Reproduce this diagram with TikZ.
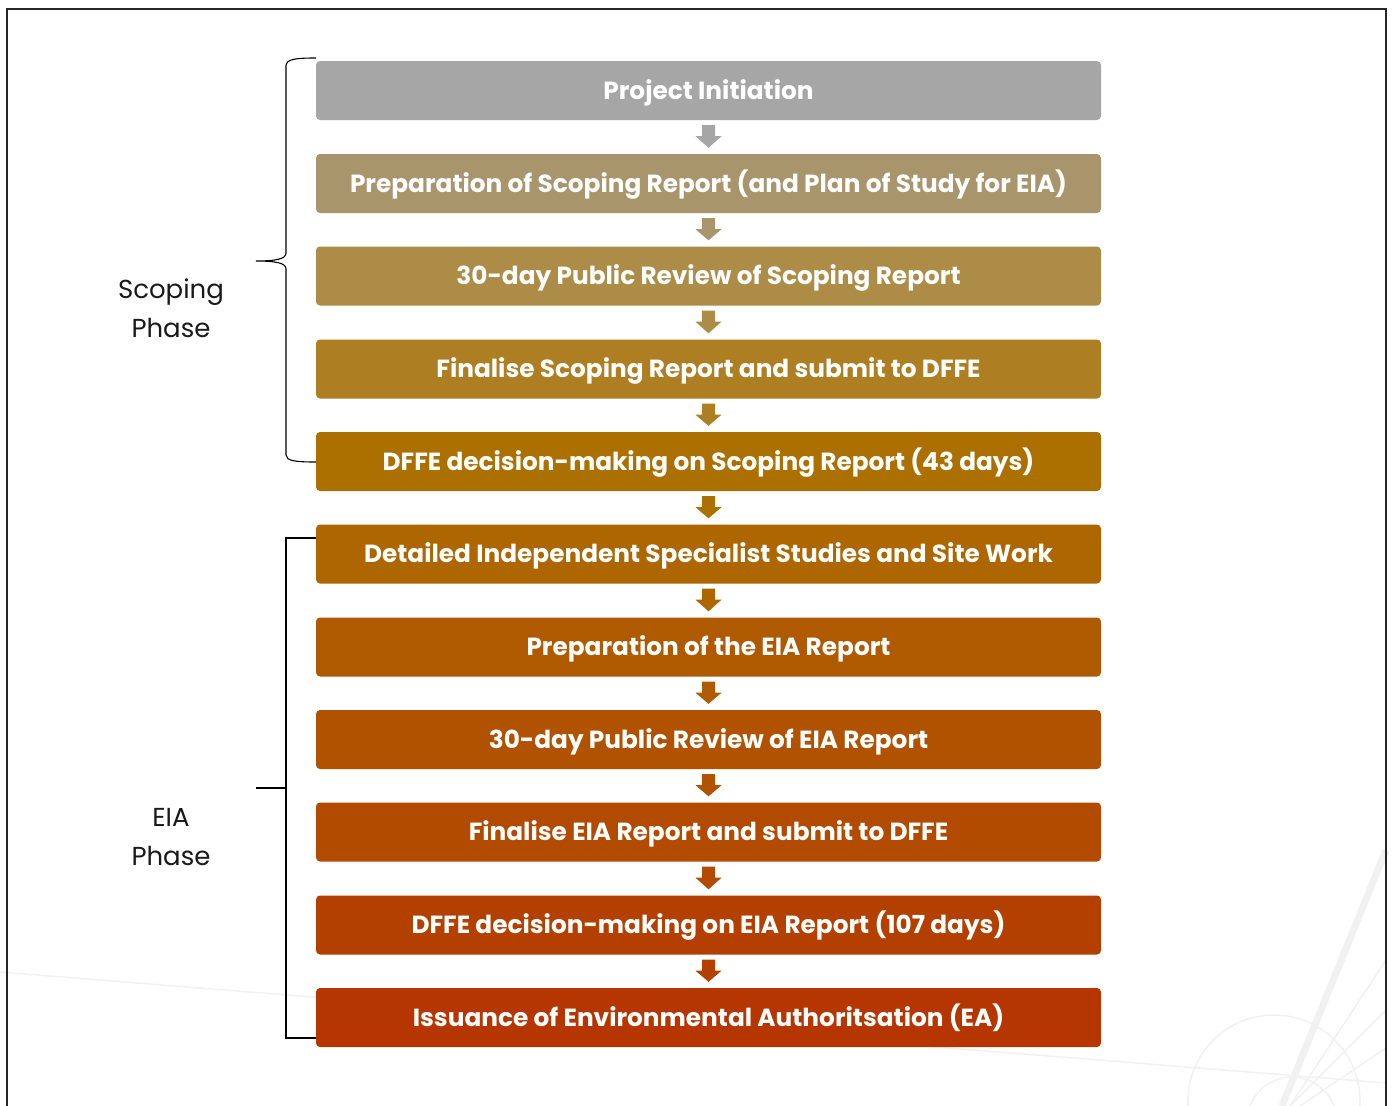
\documentclass[tikz,border=0pt]{standalone}
\usepackage{fontspec}
\setmainfont{Poppins}
\usetikzlibrary{calc}
\definecolor{c1}{HTML}{A6A6A6}
\definecolor{c2}{HTML}{A8956B}
\definecolor{c3}{HTML}{AD8C48}
\definecolor{c4}{HTML}{AD7E22}
\definecolor{c5}{HTML}{AB7000}
\definecolor{c6}{HTML}{AD6600}
\definecolor{c7}{HTML}{AF5A00}
\definecolor{c8}{HTML}{B05200}
\definecolor{c9}{HTML}{B24A00}
\definecolor{c10}{HTML}{B44000}
\definecolor{c11}{HTML}{B53600}
\definecolor{wm}{HTML}{F1F1F1}
\tikzset{
  stepbox/.style={rounded corners=4pt, minimum width=785pt, minimum height=59pt,
    inner sep=0pt, text=white, text height=21.4pt, text depth=4pt,
    font=\fontsize{24.8}{28}\selectfont\bfseries},
  phase/.style={align=center, font=\fontsize{26}{39}\selectfont, text=black!90},
  brk/.style={line width=1.1pt, black},
  wmline/.style={draw=wm, line width=1.5pt},
}
\newcommand{\blockarrow}[3]{%
  \fill[#3] ($(#1.south)+(-6.5pt,-5pt)$) -- ($(#1.south)+(6.5pt,-5pt)$)
    -- ($(#1.south)+(6.5pt,-16pt)$) -- ($(#1.south)+(13pt,-16pt)$)
    -- ($(#2.north)+(0pt,6pt)$) -- ($(#1.south)+(-13pt,-16pt)$)
    -- ($(#1.south)+(-6.5pt,-16pt)$) -- cycle;}
\begin{document}
\begin{tikzpicture}[x=1pt,y=-1pt]
\useasboundingbox (0,0) rectangle (1393,1106);
% watermark
\draw[wmline] (0,972) -- (1386,1083);
\draw[draw=wm, line width=7pt] (1386,850) -- (1282,1106);
\draw[wmline] (1274,1101) circle (86);
\draw[wmline] (1292,1122) circle (45);
\draw[wmline] (1290,1106) -- (1386,960);
\draw[wmline] (1290,1106) -- (1386,1010);
\draw[wmline] (1300,1106) -- (1386,1048);
% frame
\draw[line width=2pt, black!85] (7,1106) -- (7,9) -- (1386,9) -- (1386,1106);
% boxes
\node[stepbox, fill=c1]  (n1)  at (708.5,90.5)  {Project Initiation};
\node[stepbox, fill=c2]  (n2)  at (708.5,183.5) {Preparation of Scoping Report (and Plan of Study for EIA)};
\node[stepbox, fill=c3]  (n3)  at (708.5,276)   {30-day Public Review of Scoping Report};
\node[stepbox, fill=c4]  (n4)  at (708.5,369)   {Finalise Scoping Report and submit to DFFE};
\node[stepbox, fill=c5]  (n5)  at (708.5,461.5) {DFFE decision-making on Scoping Report (43 days)};
\node[stepbox, fill=c6]  (n6)  at (708.5,554)   {Detailed Independent Specialist Studies and Site Work};
\node[stepbox, fill=c7]  (n7)  at (708.5,647)   {Preparation of the EIA Report};
\node[stepbox, fill=c8]  (n8)  at (708.5,739.5) {30-day Public Review of EIA Report};
\node[stepbox, fill=c9]  (n9)  at (708.5,832)   {Finalise EIA Report and submit to DFFE};
\node[stepbox, fill=c10] (n10) at (708.5,925)   {DFFE decision-making on EIA Report (107 days)};
\node[stepbox, fill=c11] (n11) at (708.5,1017.5){Issuance of Environmental Authoritsation (EA)};
% arrows
\blockarrow{n1}{n2}{c1}
\blockarrow{n2}{n3}{c2}
\blockarrow{n3}{n4}{c3}
\blockarrow{n4}{n5}{c4}
\blockarrow{n5}{n6}{c5}
\blockarrow{n6}{n7}{c6}
\blockarrow{n7}{n8}{c7}
\blockarrow{n8}{n9}{c8}
\blockarrow{n9}{n10}{c9}
\blockarrow{n10}{n11}{c10}
% scoping brace
\draw[brk] (316,58) .. controls (296,58) and (286,59) .. (286,66) -- (286,253)
  .. controls (286,259) and (276,261) .. (256,261)
  .. controls (276,261) and (286,263) .. (286,269) -- (286,455)
  .. controls (286,461) and (296,462) .. (316,462);
% EIA bracket
\draw[brk] (316,538) -- (286,538) -- (286,1038) -- (316,1038);
\draw[brk] (256,788) -- (286,788);
% labels
\node[phase] (sp) at (171,308) {Scoping\\Phase};
\node[phase] (ep) at (171,837) {EIA\\Phase};
\end{tikzpicture}
\end{document}
